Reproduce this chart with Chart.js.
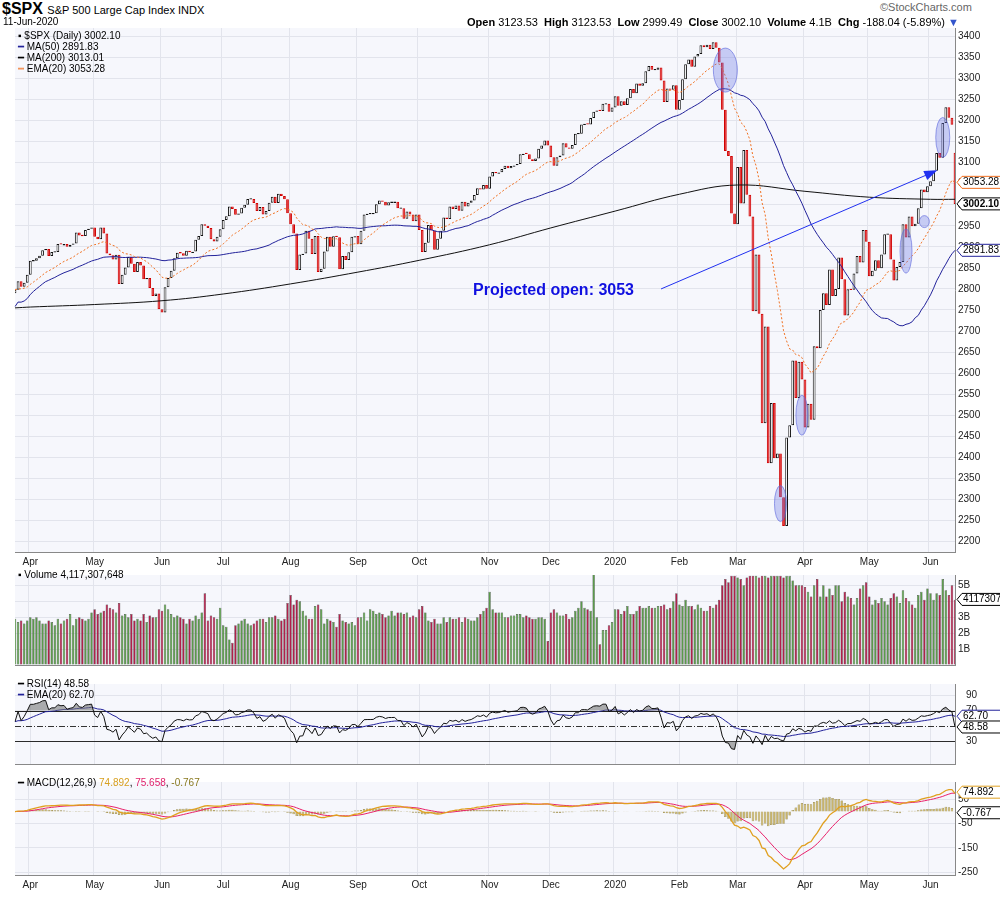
<!DOCTYPE html>
<html><head><meta charset="utf-8">
<script src="https://cdn.jsdelivr.net/npm/chart.js@4.4.1/dist/chart.umd.min.js"></script>
<style>
body{margin:0;background:#fff;font-family:"Liberation Sans",Arial,sans-serif;}
#wrap{position:relative;width:1000px;height:900px;}
.p{position:absolute;left:0;width:1000px;}
.t{position:absolute;font-size:11px;color:#000;white-space:nowrap;}
</style></head><body><div id="wrap">
<div class="p" style="top:19px;height:553px"><canvas id="main"></canvas></div>
<div class="p" style="top:566px;height:108px"><canvas id="vol"></canvas></div>
<div class="p" style="top:675px;height:98px"><canvas id="rsi"></canvas></div>
<div class="p" style="top:773px;height:122px"><canvas id="macd"></canvas></div>
<div class="t" style="left:2px;top:0px;font-size:16px;font-weight:bold;">$SPX <span style="font-size:11px;font-weight:normal">S&amp;P 500 Large Cap Index INDX</span></div>
<div class="t" style="left:3px;top:16px;font-size:10px;">11-Jun-2020</div>
<div class="t" style="left:467px;top:16px;font-size:11px;"><b>Open</b> 3123.53 &nbsp;<b>High</b> 3123.53 &nbsp;<b>Low</b> 2999.49 &nbsp;<b>Close</b> 3002.10 &nbsp;<b>Volume</b> 4.1B &nbsp;<b>Chg</b> -188.04 (-5.89%) <span style="color:#3355cc">▼</span></div>
<div class="t" style="left:880px;top:1px;font-size:11px;color:#666;">©StockCharts.com</div>
<div class="t" style="left:18px;top:30px;font-size:10px;line-height:11px;">
<div>▪ $SPX (Daily) 3002.10</div>
<div><span style="color:#22229a">━</span> MA(50) 2891.83</div>
<div>━ MA(200) 3013.01</div>
<div><span style="color:#f07020">┅</span> EMA(20) 3053.28</div></div>
<div class="t" style="left:18px;top:569px;font-size:10px;">▪ Volume 4,117,307,648</div>
<div class="t" style="left:18px;top:678px;font-size:10px;line-height:11px;">━ RSI(14) 48.58<br><span style="color:#22229a">━</span> EMA(20) 62.70</div>
<div class="t" style="left:18px;top:777px;font-size:10px;">━ MACD(12,26,9) <span style="color:#d8a020">74.892</span>, <span style="color:#e0206a">75.658</span>, <span style="color:#8a7a20">-0.767</span></div>
</div>
<script>
var monthNames = ["Mar","Apr","May","Jun","Jul","Aug","Sep","Oct","Nov","Dec","2020","Feb","Mar","Apr","May","Jun"];
var monthDays = [5,21,22,20,22,22,20,23,20,21,21,19,22,21,20,9];
var closes = [2798,2818,2805,2815,2834,
2867,2867,2873,2879,2892,2895,2878,2888,2888,2907,2905,2907,2900,2905,2908,2934,2927,2926,2940,2943,2946,
2924,2918,2946,2932,2884,2880,2870,2881,2812,2834,2851,2876,2860,2840,2864,2856,2823,2826,2802,2783,2789,2752,
2744,2804,2826,2843,2873,2886,2885,2879,2891,2887,2889,2917,2926,2954,2950,2945,2918,2913,2924,2942,
2964,2973,2996,2990,2976,2979,2993,3000,3014,3014,3004,2985,2995,2977,2985,3005,3019,3004,3026,3021,3013,2980,
2954,2932,2845,2882,2884,2938,2919,2883,2926,2840,2848,2889,2924,2900,2925,2923,2847,2878,2869,2887,2924,2926,
2906,2938,2977,2979,2979,2980,3001,3010,3007,2998,3006,3006,3007,2992,2992,2967,2984,2977,2961,2977,
2940,2888,2910,2952,2939,2893,2919,2938,2970,2966,2996,2990,2998,2986,3007,2996,3005,3010,3023,3039,3036,3047,3038,
3067,3078,3075,3077,3085,3093,3087,3092,3094,3097,3120,3122,3120,3108,3104,3110,3133,3141,3153,3141,
3113,3093,3113,3117,3146,3136,3133,3142,3169,3169,3191,3192,3191,3206,3221,3224,3223,3240,3240,3221,3231,
3258,3235,3246,3237,3253,3275,3265,3288,3283,3289,3317,3330,3321,3321,3326,3295,3244,3276,3273,3284,3226,
3249,3298,3334,3345,3328,3352,3358,3379,3374,3380,3370,3386,3373,3338,3226,3128,3116,2979,2954,
3090,3003,3130,3024,2972,2747,2882,2741,2481,2711,2386,2529,2398,2409,2305,2237,2447,2476,2630,2541,2627,2585,
2471,2527,2489,2664,2659,2750,2790,2762,2846,2783,2800,2875,2823,2737,2799,2798,2837,2878,2863,2940,2912,
2830,2843,2868,2849,2882,2930,2930,2870,2820,2852,2864,2954,2922,2972,2949,2955,2992,3036,3030,3044,
3056,3081,3123,3112,3194,3232,3207,3190,3002];
var opens = [2790].concat(closes.slice(0,-1));
opens[opens.length-1] = 3123.53;
var volumes = [2.9,2.7,2.8,2.6,2.8,
3.0,2.9,3.0,2.8,2.6,2.6,2.8,2.7,2.5,2.9,2.6,2.8,2.9,3.2,2.5,2.9,3.0,2.9,2.8,2.9,3.3,
3.5,3.2,3.3,3.4,3.8,3.6,3.5,3.3,3.9,3.1,3.2,3.0,3.2,2.8,2.9,2.8,3.2,2.7,3.1,3.0,3.0,3.5,
3.4,3.8,3.5,3.2,3.0,3.1,3.0,2.9,2.6,2.9,2.8,3.1,2.9,3.3,4.5,2.8,3.1,3.0,2.9,3.6,
2.5,2.4,1.6,1.4,2.5,2.6,2.8,2.9,2.6,2.5,2.6,2.8,2.9,2.9,2.7,3.0,3.0,3.1,2.9,2.8,2.9,3.9,
4.4,3.8,4.1,4.0,3.4,3.1,2.9,2.9,3.7,3.8,3.5,2.6,2.9,2.8,2.7,2.4,3.2,2.8,2.7,2.6,2.7,2.5,
3.0,3.0,3.3,2.8,3.5,3.4,3.2,3.3,3.2,3.0,3.1,3.4,3.1,3.3,3.3,3.2,3.3,3.0,3.1,3.0,
3.5,3.7,3.3,2.8,2.7,2.9,2.6,2.6,3.0,2.7,3.0,2.9,2.9,3.0,2.7,3.0,2.9,2.8,2.8,3.0,3.2,3.4,3.6,
4.6,3.5,3.3,3.3,3.3,3.0,3.0,3.1,3.1,3.2,3.2,3.0,3.1,3.0,2.9,2.9,3.0,3.0,2.9,1.5,
3.3,3.5,3.3,3.1,3.1,3.2,2.9,3.0,3.4,3.6,4.0,3.6,3.5,3.4,6.4,3.0,1.3,2.2,2.2,2.5,2.7,
3.5,3.5,3.2,3.4,3.7,3.2,3.2,3.4,3.7,3.6,3.6,3.7,3.6,3.6,3.7,3.7,3.8,3.5,3.6,4.0,4.5,
3.8,3.7,4.1,3.7,3.7,3.5,3.8,3.6,3.4,3.4,3.7,3.6,3.8,4.1,5.0,5.4,5.2,5.6,5.6,
5.5,5.4,5.0,5.5,5.6,5.6,5.6,5.5,5.6,5.6,5.5,5.6,5.6,5.6,5.6,5.5,5.6,5.6,5.3,5.0,5.0,5.0,
4.9,4.6,4.3,5.0,5.4,4.3,5.0,4.3,4.8,4.4,5.0,5.0,4.0,4.6,4.3,4.2,3.8,4.2,4.8,5.0,5.2,
4.3,3.8,4.1,3.9,4.2,4.0,3.8,4.2,4.5,4.3,3.9,4.7,4.2,4.0,3.8,3.6,4.4,4.6,4.1,4.8,
4.5,4.1,4.5,4.4,5.4,4.7,4.4,5.0,4.1];
// MA(200), at month starts
var ma200Pts = [2755,2757,2763,2772,2788,2812,2840,2868,2905,2945,2985,3025,3047,3032,3018,3013];

var labels = [], monthStart = {};
monthDays.forEach(function(n, m){
  for (var i = 0; i < n; i++) {
    if (i === 0 && m > 0) monthStart[labels.length] = monthNames[m];
    labels.push(monthNames[m]);
  }
});
var N = closes.length;

function ema(arr, n){ var k = 2/(n+1), out = [], p = arr[0];
  arr.forEach(function(v){ p = v*k + p*(1-k); out.push(p); }); return out; }
function sma(arr, n){ return arr.map(function(v,i){ var s = arr.slice(Math.max(0,i-n+1), i+1);
  return s.reduce(function(a,b){return a+b;},0)/s.length; }); }

var ema20 = ema(closes, 20);
var ma50 = sma(closes, 50).map(function(v,i){ return i < 50 ? v - 40 + i*0.8 : v; });
var ma200 = new Array(N).fill(null); var idx = 0;
monthDays.forEach(function(n, m){ ma200[idx] = ma200Pts[m]; idx += n; });
ma200[N-1] = 3013.01;

var rsi = [], ag = 0, al = 0;
closes.forEach(function(c,i){
  var d = i ? c - closes[i-1] : 0, g = Math.max(d,0), l = Math.max(-d,0);
  if (i === 0) { ag = 2; al = 1.6; } else { ag = (ag*13 + g)/14; al = (al*13 + l)/14; }
  rsi.push(100 - 100/(1 + ag/al));
});
var rsiEma = ema(rsi, 20);
var e12 = ema(closes, 12), e26 = ema(closes, 26);
var macd = e12.map(function(v,i){ return v - e26[i]; });
var sig = ema(macd, 9);
var hist = macd.map(function(v,i){ return v - sig[i]; });

var xAxis = function(show){ return {
  type: 'category', offset: false,
  grid: { color: function(c){ return monthStart[c.index] ? '#e2e4ec' : 'rgba(0,0,0,0)'; }, drawTicks: false },
  border: { color: '#888' },
  ticks: { display: show, autoSkip: false, maxRotation: 0, padding: 4, color: '#222',
    font: { size: 10, family: 'Liberation Sans' },
    callback: function(v, i){ return monthStart[i] || ''; } }
}; };
function yAxis(min, max, step, cb){ return {
  position: 'right', min: min, max: max,
  afterFit: function(s){ s.width = 45; },
  afterBuildTicks: function(s){ var t = []; for (var v = Math.ceil(min/step)*step; v <= max; v += step) t.push({value: v}); s.ticks = t; },
  grid: { color: '#e2e4ec', drawTicks: false }, border: { color: '#888' },
  ticks: { padding: 3, color: '#222', font: { size: 10, family: 'Liberation Sans' }, callback: cb || function(v){ return v; } }
}; }
var bg = { id: 'bg', beforeDraw: function(ch){ var a = ch.chartArea; ch.ctx.fillStyle = '#f6f7fc'; ch.ctx.fillRect(a.left, a.top, a.right-a.left, a.bottom-a.top); } };
var base = { animation: false, responsive: true, maintainAspectRatio: false,
  layout: { padding: { left: 15 } },
  plugins: { legend: { display: false }, tooltip: { enabled: false } } };
function opts(x, y){ return Object.assign({}, base, { scales: { x: x, y: y } }); }

function tagBox(ctx, ca, y, txt, col, bold){
  var x = ca.right + 2;
  ctx.font = (bold ? 'bold ' : '') + '10px Liberation Sans';
  ctx.beginPath(); ctx.moveTo(x, y); ctx.lineTo(x+5, y-6); ctx.lineTo(x+44, y-6); ctx.lineTo(x+44, y+6); ctx.lineTo(x+5, y+6); ctx.closePath();
  ctx.fillStyle = '#fff'; ctx.fill();
  ctx.strokeStyle = col || '#000'; ctx.lineWidth = 1; ctx.stroke();
  ctx.fillStyle = '#000'; ctx.textBaseline = 'middle'; ctx.fillText(txt, x+6, y);
}

var annot = { id: 'annot', afterDatasetsDraw: function(ch){
  var c = ch.ctx, xs = ch.scales.x, ys = ch.scales.y, ca = ch.chartArea;
  function P(i, v){ return [xs.getPixelForValue(i), ys.getPixelForValue(v)]; }
  c.save();
  [[232,3320,12,22],[303,3160,7,20],[297,2960,5,6],[291,2890,6,22],[257,2500,6,20],[250,2290,6,18]].forEach(function(e){
    var p = P(e[0], e[1]); c.beginPath(); c.ellipse(p[0], p[1], e[2], e[3], 0, 0, Math.PI*2);
    c.fillStyle = 'rgba(110,120,230,0.35)'; c.fill(); c.strokeStyle = 'rgba(90,100,220,0.6)'; c.stroke();
  });
  var a = P(211, 2800), b = P(300, 3078);
  c.strokeStyle = '#2030f0'; c.lineWidth = 1; c.beginPath(); c.moveTo(a[0], a[1]); c.lineTo(b[0], b[1]); c.stroke();
  var ang = Math.atan2(b[1]-a[1], b[0]-a[0]);
  c.fillStyle = '#2030f0'; c.beginPath(); c.moveTo(b[0]+4*Math.cos(ang), b[1]+4*Math.sin(ang));
  c.lineTo(b[0]-9*Math.cos(ang)+5*Math.sin(ang), b[1]-9*Math.sin(ang)-5*Math.cos(ang));
  c.lineTo(b[0]-9*Math.cos(ang)-5*Math.sin(ang), b[1]-9*Math.sin(ang)+5*Math.cos(ang)); c.fill();
  c.fillStyle = '#1010e0'; c.font = 'bold 16px Liberation Sans'; c.textBaseline = 'middle';
  c.fillText('Projected open: 3053', a[0]-188, a[1]+2);
  tagBox(c, ca, ys.getPixelForValue(3053.28), '3053.28', '#f07020');
  tagBox(c, ca, ys.getPixelForValue(3002.1), '3002.10', '#000', true);
  tagBox(c, ca, ys.getPixelForValue(2891.83), '2891.83', '#22229a');
  c.restore();
}};

new Chart(document.getElementById('main'), {
  type: 'bar',
  data: { labels: labels, datasets: [
    { type: 'line', data: ema20, borderColor: '#f07020', borderWidth: 1, borderDash: [2,2], pointRadius: 0 },
    { type: 'line', data: ma50, borderColor: '#22229a', borderWidth: 1, pointRadius: 0 },
    { type: 'line', data: ma200, borderColor: '#111', borderWidth: 1, pointRadius: 0, spanGaps: true, tension: 0.4 },
    { data: closes.map(function(c,i){ var o = opens[i]; return Math.abs(c-o) < 3 ? [o-1.5, o+1.5] : [o, c]; }),
      backgroundColor: closes.map(function(c,i){ return c < opens[i] ? '#e01010' : '#fff'; }),
      borderColor: closes.map(function(c,i){ return c < opens[i] ? '#d00000' : '#111'; }),
      borderWidth: 1, borderSkipped: false, barPercentage: 0.9, categoryPercentage: 1 }
  ]},
  options: opts(xAxis(true), yAxis(2175, 3420, 50)),
  plugins: [bg, annot]
});

new Chart(document.getElementById('vol'), {
  type: 'bar',
  data: { labels: labels, datasets: [{ data: volumes,
    backgroundColor: closes.map(function(c,i){ return i && c < closes[i-1] ? '#b0204a' : '#5a9a4a'; }),
    borderColor: '#333', borderWidth: 0.5, barPercentage: 0.8, categoryPercentage: 1 }]},
  options: opts(xAxis(false), yAxis(0, 5.65, 1, function(v){ return v ? v + 'B' : ''; })),
  plugins: [bg, { id: 'vt', afterDatasetsDraw: function(ch){ tagBox(ch.ctx, ch.chartArea, ch.scales.y.getPixelForValue(4.117), '4117307', '#000'); } }]
});

var rsiY = yAxis(0, 105, 20);
rsiY.afterBuildTicks = function(s){ s.ticks = [30,50,70,90].map(function(v){ return {value: v}; }); };
rsiY.grid = { display: false };
new Chart(document.getElementById('rsi'), {
  type: 'line',
  data: { labels: labels, datasets: [
    { data: rsi, borderColor: '#111', borderWidth: 1, pointRadius: 0,
      fill: { target: { value: 70 }, above: 'rgba(120,120,120,0.6)', below: 'rgba(0,0,0,0)' } },
    { data: rsi, borderColor: 'rgba(0,0,0,0)', pointRadius: 0,
      fill: { target: { value: 30 }, above: 'rgba(0,0,0,0)', below: 'rgba(120,120,120,0.6)' } },
    { data: rsiEma, borderColor: '#22229a', borderWidth: 1, pointRadius: 0 } ]},
  options: opts(xAxis(false), rsiY),
  plugins: [bg, { id: 'rt',
    beforeDatasetsDraw: function(ch){ var c = ch.ctx, ys = ch.scales.y, a = ch.chartArea; c.save();
      [[90,'#e2e4ec',[]],[70,'#222',[]],[30,'#222',[]],[50,'#333',[6,2,1,2]]].forEach(function(l){
        var y = Math.round(ys.getPixelForValue(l[0])) + 0.5; c.strokeStyle = l[1]; c.setLineDash(l[2]); c.lineWidth = 1;
        c.beginPath(); c.moveTo(a.left, y); c.lineTo(a.right, y); c.stroke(); });
      c.restore(); },
    afterDatasetsDraw: function(ch){ var ys = ch.scales.y;
      tagBox(ch.ctx, ch.chartArea, ys.getPixelForValue(62.7), '62.70', '#22229a');
      tagBox(ch.ctx, ch.chartArea, ys.getPixelForValue(48.58), '48.58', '#000'); } }]
});

new Chart(document.getElementById('macd'), {
  type: 'bar',
  data: { labels: labels, datasets: [
    { type: 'line', data: macd, borderColor: '#e0a020', borderWidth: 1.3, pointRadius: 0 },
    { type: 'line', data: sig, borderColor: '#e8206a', borderWidth: 1, pointRadius: 0 },
    { data: hist, backgroundColor: '#c8b46a', borderColor: '#7a6a20', borderWidth: 0.5, barPercentage: 0.8, categoryPercentage: 1 } ]},
  options: opts(xAxis(true), yAxis(-262, 122, 50)),
  plugins: [bg, { id: 'mt', afterDatasetsDraw: function(ch){ var ys = ch.scales.y;
    tagBox(ch.ctx, ch.chartArea, ys.getPixelForValue(80), '74.892', '#e0a020');
    tagBox(ch.ctx, ch.chartArea, ys.getPixelForValue(-5), '-0.767', '#000'); } }]
});
</script></body></html>
